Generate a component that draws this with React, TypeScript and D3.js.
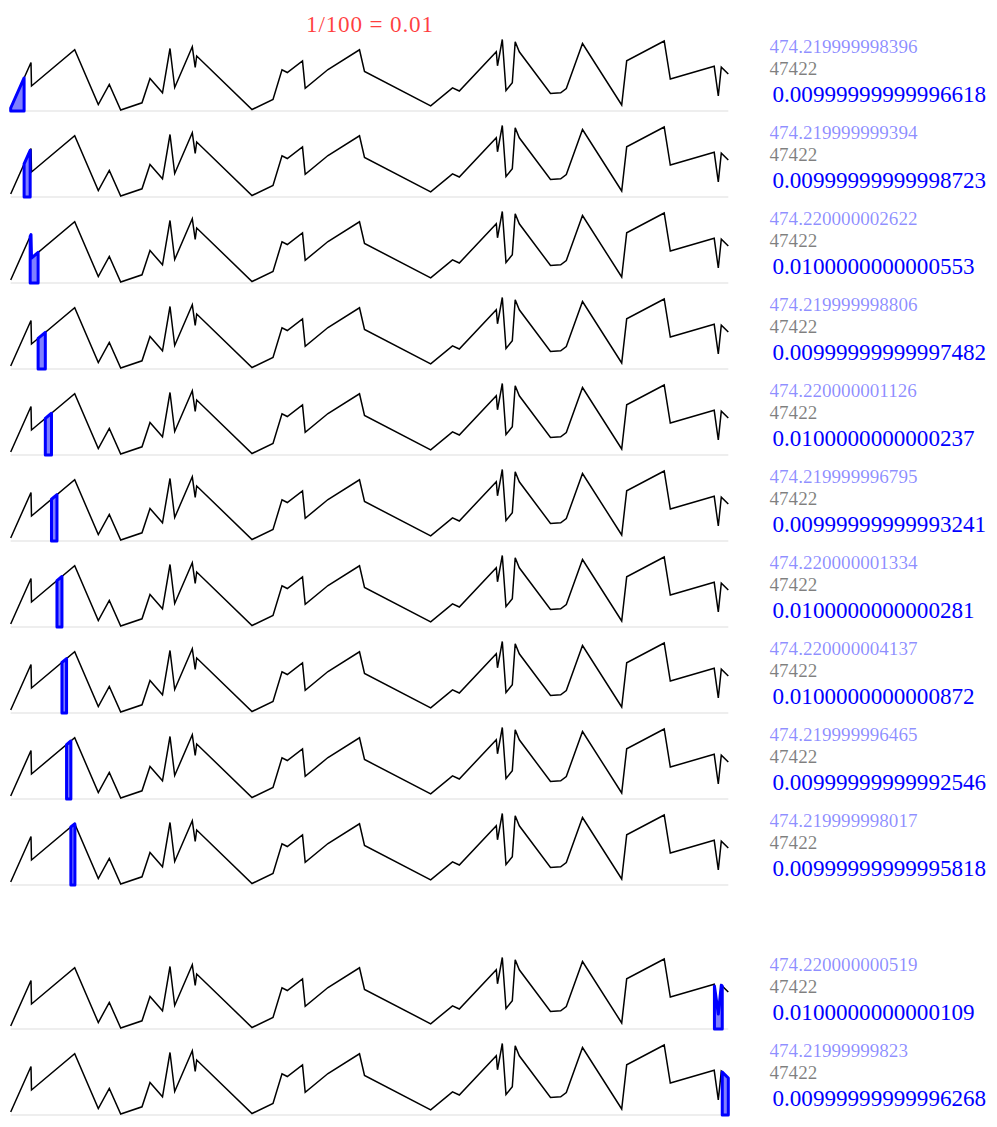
import React from "react";
import * as d3 from "d3";

// Series (irregularly spaced samples)
const xValues = [10.7, 31, 31.5, 74.7, 98.3, 109.3, 120.7, 142, 150, 162.5, 170, 174.7, 192.3, 195.2, 196.7, 252, 273, 282, 287.3, 302.5, 305.2, 328, 359.5, 364.5, 430.7, 452.5, 459.3, 496.3, 497.5, 502.3, 506, 512.3, 515.2, 519.3, 550.5, 560.7, 566.3, 582.5, 621.7, 626.7, 664.2, 670.3, 714.2, 718.3, 721.3, 728.3];
const yValues = [3, 48.5, 25, 61.2, 6.5, 26.5, 1, 8.2, 32.5, 18.2, 62.5, 23.5, 64.2, 43.5, 55, 1.5, 11.5, 41.2, 38.5, 50, 22.7, 41.5, 61.2, 39.5, 5.2, 23.2, 20, 59.2, 45.2, 71.5, 20.5, 28.2, 69.2, 59.2, 17.5, 18.2, 22.5, 67.5, 6, 50.2, 70, 32, 44.7, 15, 43.8, 37];

// Which 1% slices are shown, one per row
const sliceIndices = [0, 1, 2, 3, 4, 5, 6, 7, 8, 9, 98, 99];
const sliceCount = 100;

const totalLabels = ["474.219999998396", "474.219999999394", "474.220000002622", "474.219999998806", "474.220000001126", "474.219999996795", "474.220000001334", "474.220000004137", "474.219999996465", "474.219999998017", "474.220000000519", "474.21999999823"];
const countLabels = ["47422", "47422", "47422", "47422", "47422", "47422", "47422", "47422", "47422", "47422", "47422", "47422"];
const fractionLabels = ["0.00999999999996618", "0.00999999999998723", "0.0100000000000553", "0.00999999999997482", "0.0100000000000237", "0.00999999999993241", "0.0100000000000281", "0.0100000000000872", "0.00999999999992546", "0.00999999999995818", "0.0100000000000109", "0.00999999999996268"];
const titleText = "1/100 = 0.01";

const W = 997;
const H = 1127;
const rowH = 86;
const firstBaseline = 111;
const gapAfter = 10;
const gapSize = 58;

const points: [number, number][] = xValues.map((x, i) => [x, yValues[i]]);

function valueAt(x: number): number {
  for (let i = 0; i < points.length - 1; i++) {
    const [x0, y0] = points[i];
    const [x1, y1] = points[i + 1];
    if (x >= x0 && x <= x1) {
      if (x1 === x0) return y1;
      return y0 + ((y1 - y0) * (x - x0)) / (x1 - x0);
    }
  }
  return points[points.length - 1][1];
}

function areaUpTo(x: number): number {
  let a = 0;
  for (let i = 0; i < points.length - 1; i++) {
    const [x0, y0] = points[i];
    const [x1] = points[i + 1];
    if (x <= x0) break;
    const xe = Math.min(x, x1);
    const ye = valueAt(xe);
    a += ((xe - x0) * (y0 + ye)) / 2;
  }
  return a;
}

const xMin = xValues[0];
const xMax = xValues[xValues.length - 1];
const totalArea = areaUpTo(xMax);

function cutAt(k: number): number {
  const target = (totalArea * k) / sliceCount;
  let lo = xMin, hi = xMax;
  for (let it = 0; it < 60; it++) {
    const mid = (lo + hi) / 2;
    if (areaUpTo(mid) < target) lo = mid; else hi = mid;
  }
  return (lo + hi) / 2;
}

function slicePoints(k: number): [number, number][] {
  const a = cutAt(k);
  const b = cutAt(k + 1);
  const pts: [number, number][] = [[a, valueAt(a)]];
  points.forEach((p) => {
    if (p[0] > a && p[0] < b) pts.push(p);
  });
  pts.push([b, valueAt(b)]);
  return pts;
}

export default function App() {
  const xScale = d3.scaleLinear().domain([xMin, xMax]).range([10.7, 728.3]);
  const yScale = d3.scaleLinear().domain([0, rowH]).range([0, -rowH]);

  const line = d3.line<[number, number]>().x((d) => xScale(d[0])).y((d) => yScale(d[1]));
  const area = d3
    .area<[number, number]>()
    .x((d) => xScale(d[0]))
    .y0(yScale(0))
    .y1((d) => yScale(d[1]));

  const linePath = line(points) || "";
  const serif = "'Liberation Serif', 'Times New Roman', serif";

  return (
    <svg
      width={W}
      height={H}
      style={{ position: "absolute", left: 0, top: 0, background: "#fff" }}
    >
      <text
        x={(xScale(xMin) + xScale(xMax)) / 2}
        y={32.3}
        textAnchor="middle"
        fontFamily={serif}
        fontSize={23.2}
        fill="rgba(255,0,0,0.75)"
        textLength={127}
        lengthAdjust="spacing"
      >
        {titleText}
      </text>
      {sliceIndices.map((k, i) => {
        const baseline = firstBaseline + i * rowH + (i >= gapAfter ? gapSize : 0);
        return (
          <g key={k} transform={`translate(0,${baseline})`}>
            <line
              x1={xScale(xMin)}
              x2={xScale(xMax)}
              y1={yScale(0)}
              y2={yScale(0)}
              stroke="#dddddd"
              strokeWidth={1}
            />
            <path d={linePath} fill="none" stroke="#000" strokeWidth={1.5} strokeLinejoin="miter" />
            <path
              d={area(slicePoints(k)) || ""}
              fill="rgba(0,0,255,0.5)"
              stroke="#0000ff"
              strokeWidth={3}
              strokeLinejoin="round"
            />
            <text x={769.5} y={-57.7} fontFamily={serif} fontSize={19.1} fill="rgba(0,0,255,0.45)">
              {totalLabels[i]}
            </text>
            <text x={769.5} y={-36} fontFamily={serif} fontSize={19.1} fill="rgba(0,0,0,0.5)">
              {countLabels[i]}
            </text>
            <text x={772.5} y={-8.7} fontFamily={serif} fontSize={23.1} fill="#0000ff">
              {fractionLabels[i]}
            </text>
          </g>
        );
      })}
    </svg>
  );
}
